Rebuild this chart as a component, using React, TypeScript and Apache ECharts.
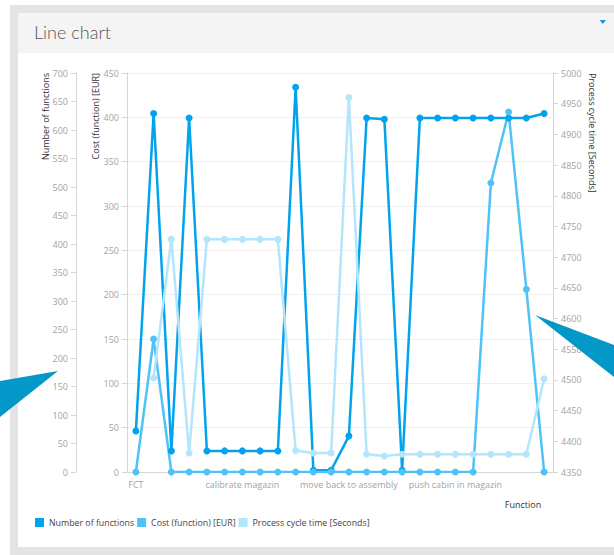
import React, { useEffect, useRef } from "react";
import * as echarts from "echarts";

const categories = [
  "FCT", "check cabin", "pick cabin", "transport cabin", "place cabin", "clamp cabin",
  "calibrate magazin", "load magazin", "screw cabin", "inspect cabin", "release cabin", "unload cabin",
  "move back to assembly", "move to magazin", "lift cabin", "rotate cabin", "position cabin", "lock magazin",
  "push cabin in magazin", "unlock magazin", "store magazin", "label cabin", "final check", "ship cabin",
];

const numberOfFunctions = [72, 629, 37, 621, 37, 37, 37, 37, 37, 675, 3, 3, 63, 621, 619, 3, 621, 621, 621, 621, 621, 621, 621, 629];
const costFunction = [0, 150, 0, 0, 0, 0, 0, 0, 0, 0, 0, 0, 0, 0, 0, 0, 0, 0, 0, 0, 326, 406, 206, 0];
const processCycleTime = [null, 4503, 4729, 4381, 4729, 4729, 4729, 4729, 4729, 4385, 4381, 4381, 4960, 4379, 4376, 4379, 4379, 4379, 4379, 4379, 4379, 4379, 4379, 4502];

const seriesNames = ["Number of functions", "Cost (function) [EUR]", "Process cycle time [Seconds]"];
const seriesColors = ["#00a3ec", "#4fc3f7", "#b3e5fc"];

const FONT = "'Open Sans', sans-serif";
const LABEL_GRAY = "#a3a3a3";
const AXIS_GRAY = "#d6d6d6";

function yAxisBase(min: number, max: number, position: string, offset: number, split: boolean) {
  return {
    type: "value",
    min,
    max,
    interval: 50,
    position,
    offset,
    axisLine: { show: true, lineStyle: { color: AXIS_GRAY } },
    axisTick: { show: true, length: 5, lineStyle: { color: AXIS_GRAY } },
    axisLabel: {
      color: LABEL_GRAY, fontSize: 9, fontFamily: FONT, margin: 8,
      formatter: (v: number) => String(v),
    },
    splitLine: { show: split, lineStyle: { color: "#f0f0f0" } },
  };
}

function App() {
  const ref = useRef<HTMLDivElement>(null);
  useEffect(() => {
    if (!ref.current) return;
    const chart = echarts.init(ref.current, undefined, { renderer: "svg" });
    const dataSets = [numberOfFunctions, costFunction, processCycleTime];
    const option: any = {
      animation: false,
      title: {
        text: "Line chart",
        left: 34,
        top: 23,
        padding: 0,
        textStyle: { fontFamily: "Lato, sans-serif", fontWeight: 300, fontSize: 18, color: "#555" },
      },
      legend: {
        left: 35,
        top: 518,
        padding: 0,
        itemWidth: 9,
        itemHeight: 9,
        itemGap: 3,
        icon: "rect",
        textStyle: { fontSize: 8.8, fontFamily: FONT, color: "#444" },
        data: seriesNames,
      },
      grid: { left: 127, right: 61, top: 73, bottom: 83 },
      xAxis: {
        type: "category",
        data: categories,
        boundaryGap: true,
        axisLine: { lineStyle: { color: AXIS_GRAY } },
        axisTick: { alignWithLabel: true, interval: 5, length: 5, lineStyle: { color: AXIS_GRAY } },
        axisLabel: { interval: 5, color: LABEL_GRAY, fontSize: 9, fontFamily: FONT, margin: 8 },
      },
      yAxis: [
        yAxisBase(0, 700, "left", 51, false),
        yAxisBase(0, 450, "left", 0, true),
        yAxisBase(4350, 5000, "right", 0, false),
      ],
      series: seriesNames.map((name, i) => ({
        name,
        type: "line",
        yAxisIndex: i,
        data: dataSets[i],
        symbol: "circle",
        symbolSize: 7,
        showAllSymbol: true,
        connectNulls: false,
        itemStyle: { color: seriesColors[i] },
        lineStyle: { color: seriesColors[i], width: 2.5 },
      })),
      graphic: [
        {
          type: "text", x: 45, y: 73, rotation: Math.PI / 2,
          style: { text: "Number of functions", fill: "#333", font: "9px 'Open Sans'", align: "right", verticalAlign: "middle", textAlign: "right", textVerticalAlign: "middle" },
        },
        {
          type: "text", x: 95.5, y: 73, rotation: Math.PI / 2,
          style: { text: "Cost (function) [EUR]", fill: "#333", font: "9px 'Open Sans'", align: "right", verticalAlign: "middle", textAlign: "right", textVerticalAlign: "middle" },
        },
        {
          type: "text", x: 592.5, y: 73, rotation: -Math.PI / 2,
          style: { text: "Process cycle time [Seconds]", fill: "#333", font: "9px 'Open Sans'", align: "left", verticalAlign: "middle", textAlign: "left", textVerticalAlign: "middle" },
        },
        {
          type: "text", x: 523, y: 504,
          style: { text: "Function", fill: "#333", font: "9px 'Open Sans'", align: "center", verticalAlign: "middle", textAlign: "center", textVerticalAlign: "middle" },
        },
        {
          type: "polygon", z: 100,
          shape: { points: [[0, 381], [58, 371], [0, 417]] },
          style: { fill: "#0498c9" },
        },
        {
          type: "polygon", z: 100,
          shape: { points: [[535, 315], [614, 345], [614, 377]] },
          style: { fill: "#0498c9" },
        },
        {
          type: "polygon",
          shape: { points: [[599.5, 20], [606, 20], [602.75, 24]] },
          style: { fill: "#1b95d4" },
        },
      ],
    };
    chart.setOption(option);
    return () => chart.dispose();
  }, []);

  return (
    <div style={{ position: "fixed", left: 0, top: 0, width: 614, height: 555, background: "#fff", overflow: "hidden" }}>
      <div style={{ position: "absolute", left: 10, top: 5, width: 604, height: 550, background: "#e4e4e4" }} />
      <div style={{ position: "absolute", left: 17.5, top: 12.5, width: 596.5, height: 534.5, background: "#fff" }} />
      <div style={{ position: "absolute", left: 17.5, top: 12.5, width: 596.5, height: 40.5, background: "#f4f4f4" }} />
      <div ref={ref} style={{ position: "absolute", left: 0, top: 0, width: 614, height: 555 }} />
    </div>
  );
}

export default App;
